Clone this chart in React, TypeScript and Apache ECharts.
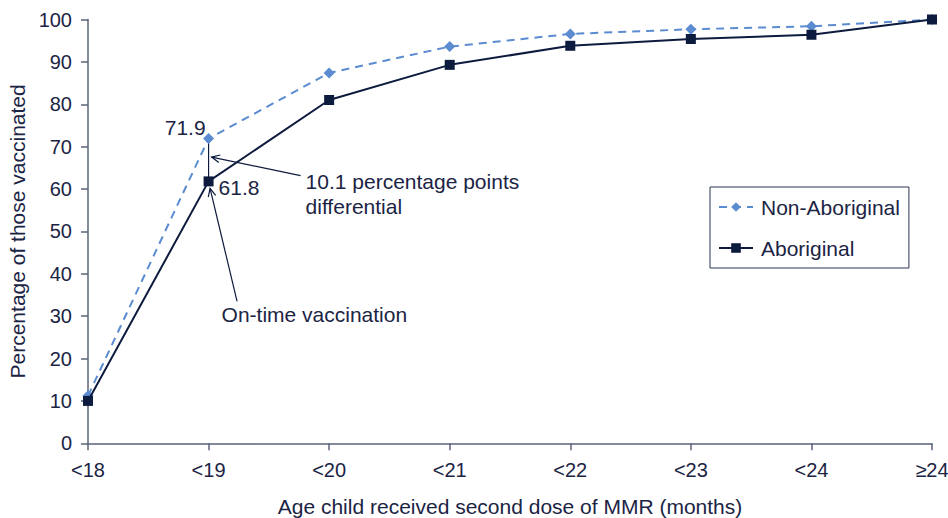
import React, { useEffect, useRef } from "react";
import * as echarts from "echarts";

const categories = ["<18", "<19", "<20", "<21", "<22", "<23", "<24", "≥24"];
const nonAboriginal = [11.2, 71.9, 87.4, 93.6, 96.6, 97.7, 98.4, 100];
const aboriginal = [10.0, 61.8, 81.0, 89.3, 93.8, 95.4, 96.4, 100];
const yTicks = { min: 0, max: 100, interval: 10 };

const TEXT = "#1b2444";
const AXIS = "#5a6478";
const LIGHT = "#5b8bd0";
const DARK = "#0d1b3e";
const FONT = "'Liberation Sans', Arial, sans-serif";

function arrow(tip: number[], tail: number[]) {
  const dx = tail[0] - tip[0];
  const dy = tail[1] - tip[1];
  const len = Math.sqrt(dx * dx + dy * dy);
  const ux = dx / len;
  const uy = dy / len;
  const L = 9;
  const a = (25 * Math.PI) / 180;
  const rot = (ang: number) => [
    tip[0] + L * (ux * Math.cos(ang) - uy * Math.sin(ang)),
    tip[1] + L * (ux * Math.sin(ang) + uy * Math.cos(ang)),
  ];
  const s = { stroke: DARK, lineWidth: 1.2, fill: "none" };
  return [
    { type: "line", shape: { x1: tail[0], y1: tail[1], x2: tip[0], y2: tip[1] }, style: s },
    { type: "polyline", shape: { points: [rot(a), tip, rot(-a)] }, style: s },
  ];
}

export default function App() {
  const ref = useRef<HTMLDivElement>(null);
  useEffect(() => {
    document.body.style.margin = "0";
    const chart = echarts.init(ref.current!, null, { renderer: "svg" });
    chart.setOption({
      animation: false,
      textStyle: { fontFamily: FONT, color: TEXT },
      grid: { left: 88, right: 16, top: 19.5, bottom: 74.7, containLabel: false, outerBoundsMode: "none" },
      legend: {
        orient: "vertical",
        left: 710,
        top: 187,
        padding: [9, 9, 9, 8],
        itemWidth: 34,
        itemHeight: 12,
        itemGap: 19,
        borderColor: "#2a3450",
        borderWidth: 1,
        textStyle: { fontSize: 21, color: TEXT, fontFamily: FONT, lineHeight: 22, padding: [0, 0, 0, 3] },
        data: ["Non-Aboriginal", "Aboriginal"],
      },
      xAxis: {
        type: "category",
        data: categories,
        boundaryGap: false,
        name: "Age child received second dose of MMR (months)",
        nameLocation: "middle",
        nameGap: 53,
        nameTextStyle: { fontSize: 21, color: TEXT, fontFamily: FONT },
        axisLine: { lineStyle: { color: AXIS, width: 1.5 } },
        axisTick: { alignWithLabel: true, length: 7, lineStyle: { color: AXIS, width: 1.5 } },
        axisLabel: { fontSize: 20, color: TEXT, margin: 17, fontFamily: FONT },
        splitLine: { show: false },
      },
      yAxis: {
        type: "value",
        min: yTicks.min,
        max: yTicks.max,
        interval: yTicks.interval,
        name: "Percentage of those vaccinated",
        nameLocation: "middle",
        nameGap: 60,
        nameTextStyle: { fontSize: 21, color: TEXT, fontFamily: FONT },
        axisLine: { show: true, lineStyle: { color: AXIS, width: 1.5 } },
        axisTick: { show: true, length: 7, lineStyle: { color: AXIS, width: 1.5 } },
        axisLabel: { fontSize: 20, color: TEXT, margin: 16, fontFamily: FONT },
        splitLine: { show: false },
      },
      series: [
        {
          name: "Non-Aboriginal",
          type: "line",
          data: nonAboriginal,
          symbol: "diamond",
          symbolSize: 11,
          lineStyle: { color: LIGHT, width: 2, type: [8, 6] },
          itemStyle: { color: LIGHT },
          z: 2,
        },
        {
          name: "Aboriginal",
          type: "line",
          data: aboriginal,
          symbol: "rect",
          symbolSize: 10,
          lineStyle: { color: DARK, width: 2 },
          itemStyle: { color: DARK },
          z: 3,
        },
      ],
    });

    const p1 = chart.convertToPixel({ xAxisIndex: 0, yAxisIndex: 0 }, [1, nonAboriginal[1]]) as number[];
    const p2 = chart.convertToPixel({ xAxisIndex: 0, yAxisIndex: 0 }, [1, aboriginal[1]]) as number[];
    const txt = (text: string, x: number, y: number, align: string) => ({
      type: "text",
      x,
      y,
      style: { text, fontSize: 21, fill: TEXT, fontFamily: FONT, align, verticalAlign: "middle" },
    });
    chart.setOption({
      graphic: [
        { type: "line", shape: { x1: p1[0], y1: p1[1], x2: p2[0], y2: p2[1] }, style: { stroke: DARK, lineWidth: 1.2 } },
        ...arrow([p1[0] + 3, p1[1] + 18.5], [p1[0] + 92, p1[1] + 37]),
        ...arrow([p2[0] + 1.5, p2[1] + 7], [p2[0] + 28.5, p2[1] + 120]),
        txt(String(nonAboriginal[1]), p1[0] - 3, p1[1] - 11, "right"),
        txt(String(aboriginal[1]), p2[0] + 10, p2[1] + 6, "left"),
        txt("10.1 percentage points", p1[0] + 97, p1[1] + 43, "left"),
        txt("differential", p1[0] + 97, p1[1] + 68, "left"),
        txt("On-time vaccination", p2[0] + 13, p2[1] + 133, "left"),
      ],
    });
    return () => chart.dispose();
  }, []);
  return <div ref={ref} style={{ width: 948, height: 518 }} />;
}
